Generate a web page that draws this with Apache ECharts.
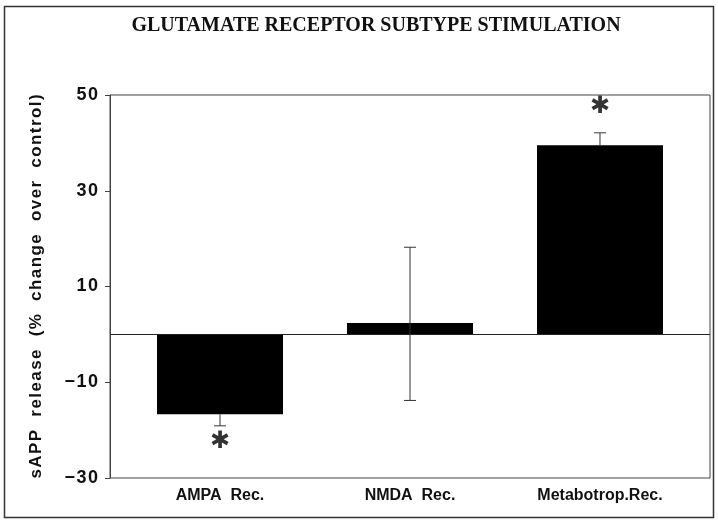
<!DOCTYPE html>
<html>
<head>
<meta charset="utf-8">
<script src="https://cdn.jsdelivr.net/npm/echarts@6/dist/echarts.min.js"></script>
<style>
  html, body { margin: 0; padding: 0; background: #fff; }
  #chart { width: 718px; height: 522px; }
</style>
</head>
<body>
<div id="chart"></div>
<script>
// receptor groups and sAPP release (% change over control)
const categories = ['AMPA  Rec.', 'NMDA  Rec.', 'Metabotrop.Rec.']
const values = [-16.7, 2.4, 39.5]
// error bar lengths (down / up from the bar end)
const errDown = [2.4, 16.2, 0]
const errUp = [0, 15.8, 2.6]
// significance stars and where they sit
const starText = ['\u2731', '', '\u2731']
const starPos = [-22.5, null, 47.5]
const yTicks = [-30, -10, 10, 30, 50]
const yName = 'sAPP release (% change over control)'

const chart = echarts.init(document.getElementById('chart'))

const barData = values.map((v, i) => [i, v])
const errData = values.map((v, i) => [i, v - errDown[i], v + errUp[i], errDown[i], errUp[i]])
const starData = starPos.map((p, i) => (p === null ? null : [i, p]))

// wide letter spacing like the scanned figure
const spaced = s => s.split(' ').map(w => w.split('').join('\u200a')).join('\u2002 ')

const option = {
  animation: false,
  backgroundColor: '#fff',
  title: {
    text: 'GLUTAMATE RECEPTOR SUBTYPE STIMULATION',
    left: 371,
    textAlign: 'center',
    top: 11,
    textStyle: {
      fontFamily: 'Liberation Serif',
      fontWeight: 'bold',
      fontSize: 20,
      color: '#111'
    }
  },
  graphic: [
    {
      type: 'rect',
      shape: { x: 4.5, y: 6.5, width: 709, height: 511 },
      style: { fill: 'none', stroke: '#333', lineWidth: 1.5 }
    }
  ],
  grid: {
    left: 110,
    right: 8,
    top: 95,
    bottom: 44,
    show: true,
    borderColor: '#444',
    borderWidth: 1
  },
  xAxis: {
    type: 'value',
    min: -0.579,
    max: 2.579,
    splitLine: { show: false },
    axisLine: { show: false, onZero: false },
    axisTick: { show: false },
    axisLabel: {
      customValues: [0, 1, 2],
      margin: 10,
      fontFamily: 'Liberation Sans',
      fontWeight: 'bold',
      fontSize: 16,
      color: '#111',
      formatter: v => categories[Math.round(v)] || ''
    }
  },
  yAxis: {
    type: 'value',
    min: yTicks[0],
    max: yTicks[yTicks.length - 1],
    interval: 20,
    name: spaced(yName),
    nameLocation: 'middle',
    nameGap: 65,
    nameTextStyle: {
      fontFamily: 'Liberation Sans',
      fontWeight: 'bold',
      fontSize: 17,
      color: '#111'
    },
    splitLine: { show: false },
    axisLine: { show: true, onZero: false, lineStyle: { color: '#444' } },
    axisTick: { show: true, length: 5, lineStyle: { color: '#444' } },
    axisLabel: {
      margin: 12,
      fontFamily: 'Liberation Sans',
      fontWeight: 'bold',
      fontSize: 18,
      color: '#111',
      formatter: v => (v < 0 ? '\u2212' + Math.abs(v) : String(v)).split('').join('\u200a')
    }
  },
  series: [
    {
      type: 'bar',
      data: barData,
      barWidth: 126,
      itemStyle: { color: '#000' },
      markLine: {
        silent: true,
        symbol: 'none',
        label: { show: false },
        lineStyle: { color: '#222', type: 'solid', width: 1 },
        data: [{ yAxis: 0 }]
      }
    },
    {
      type: 'custom',
      data: errData,
      z: 5,
      renderItem: (params, api) => {
        const x = api.coord([api.value(0), 0])[0]
        const lo = api.coord([api.value(0), api.value(1)])[1]
        const hi = api.coord([api.value(0), api.value(2)])[1]
        const cap = 6
        const style = { stroke: '#333', lineWidth: 1 }
        const children = [
          { type: 'line', shape: { x1: x, y1: lo, x2: x, y2: hi }, style }
        ]
        if (api.value(3) > 0) {
          children.push({ type: 'line', shape: { x1: x - cap, y1: lo, x2: x + cap, y2: lo }, style })
        }
        if (api.value(4) > 0) {
          children.push({ type: 'line', shape: { x1: x - cap, y1: hi, x2: x + cap, y2: hi }, style })
        }
        return { type: 'group', children }
      }
    },
    {
      type: 'scatter',
      data: starData,
      symbolSize: 0,
      label: {
        show: true,
        position: 'inside',
        formatter: p => starText[p.dataIndex],
        fontFamily: 'DejaVu Sans',
        fontWeight: 'bold',
        fontSize: 24,
        color: '#000'
      }
    }
  ]
}

chart.setOption(option)
</script>
</body>
</html>
